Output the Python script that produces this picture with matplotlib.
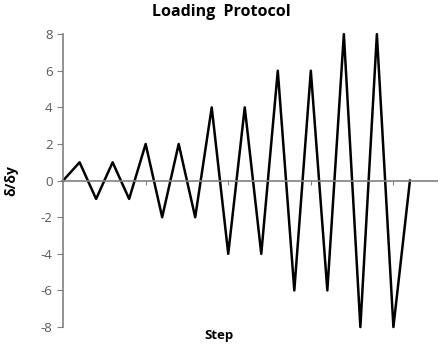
import matplotlib.pyplot as plt

# loading protocol amplitudes (delta/delta_y) at each step
steps = list(range(22))
ratio = [0, 1, -1, 1, -1, 2, -2, 2, -2, 4, -4, 4, -4, 6, -6, 6, -6, 8, -8, 8, -8, 0]
y_ticks = [-8, -6, -4, -2, 0, 2, 4, 6, 8]
x_ticks = [5, 10, 15, 20]

plt.rcParams['font.family'] = ['Open Sans', 'DejaVu Sans']
plt.rcParams['axes.unicode_minus'] = False

fig = plt.figure(figsize=(4.38, 3.45), dpi=100)
ax = fig.add_axes([0.144, 0.052, 0.856, 0.849])

ax.plot(steps, ratio, color='black', linewidth=1.8, clip_on=False)

ax.set_xlim(0, 22.7)
ax.set_ylim(-8, 8)

grey = '#808080'
ax.spines['top'].set_visible(False)
ax.spines['right'].set_visible(False)
ax.spines['left'].set_color(grey)
ax.spines['bottom'].set_color(grey)
ax.spines['bottom'].set_position(('data', 0))
ax.spines['left'].set_linewidth(1.2)
ax.spines['bottom'].set_linewidth(1.2)

ax.set_yticks(y_ticks)
ax.set_xticks(x_ticks)
ax.set_xticklabels([])
ax.tick_params(axis='y', colors=grey, labelcolor='#595959', labelsize=9.5, length=4, direction='out')
ax.tick_params(axis='x', colors=grey, length=3, direction='out')

fig.text(0.505, 0.965, 'Loading  Protocol', fontsize=11.5, fontweight='bold', ha='center', va='center')
ax.set_ylabel('δ/δy', fontsize=10, fontweight='bold')
ax.yaxis.set_label_coords(-0.12, 0.5)
fig.text(0.50, 0.01, 'Step', fontsize=9.5, fontweight='bold', ha='center', va='bottom')

fig.savefig('out.png', dpi=100)
